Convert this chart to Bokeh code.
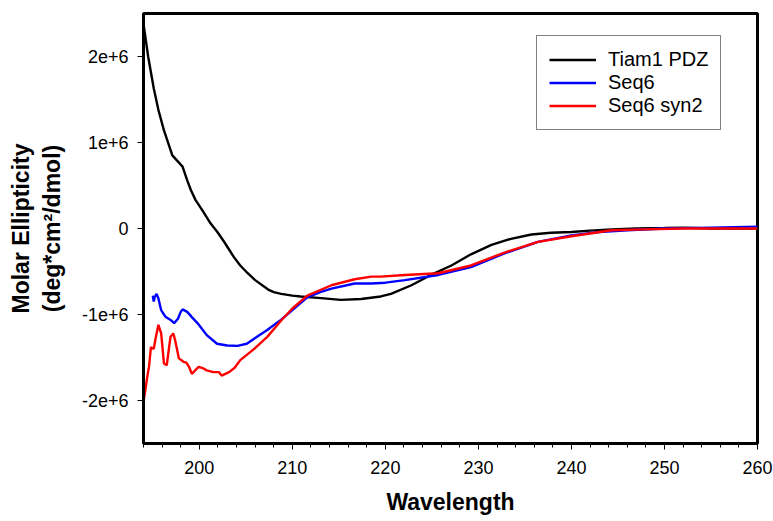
from bokeh.plotting import figure
from bokeh.models import Range1d, FixedTicker, ColumnDataSource
from bokeh.embed import file_html
from bokeh.resources import INLINE

# ---- data ----
tiam_x = [194.0, 194.5, 195.1, 195.6, 196.2, 197.1, 198.2, 198.7, 199.1, 199.6, 200.4, 201.2,
          202.0, 202.7, 203.7, 204.4, 205.2, 206.0, 207.4, 208.0, 208.8, 210.0, 210.9, 213.1,
          215.2, 217.4, 219.5, 220.6, 222.8, 224.9, 227.1, 229.2, 231.4, 233.5, 235.7, 237.8,
          240.0, 242.0, 244.3, 247.0, 250.0, 252.0, 255.0, 258.0, 260.0]
tiam_y = [2.38e6, 2.0e6, 1.63e6, 1.38e6, 1.14e6, 0.85e6, 0.72e6, 0.56e6, 0.445e6, 0.33e6, 0.20e6, 0.06e6,
          -0.05e6, -0.16e6, -0.33e6, -0.43e6, -0.52e6, -0.60e6, -0.71e6, -0.74e6, -0.76e6, -0.78e6, -0.79e6, -0.81e6,
          -0.83e6, -0.82e6, -0.79e6, -0.76e6, -0.66e6, -0.54e6, -0.43e6, -0.30e6, -0.19e6, -0.12e6, -0.07e6, -0.05e6,
          -0.04e6, -0.025e6, -0.01e6, 0.0, 0.005e6, 0.01e6, 0.0, 0.0, 0.0]

seq6_x = [195.0, 195.1, 195.2, 195.4, 195.6, 195.9, 196.2, 196.4, 196.7, 197.0, 197.3, 197.7,
          198.0, 198.2, 198.7, 199.2, 199.8, 200.8, 201.9, 203.0, 204.1, 205.1, 206.2, 207.3,
          208.8, 210.0, 211.6, 213.0, 214.2, 216.7, 218.5, 220.0, 222.1, 225.7, 229.2, 232.8,
          236.4, 240.0, 243.0, 246.0, 250.0, 255.0, 260.0]
seq6_y = [-0.78e6, -0.85e6, -0.80e6, -0.76e6, -0.81e6, -0.95e6, -1.00e6, -1.03e6, -1.05e6, -1.07e6, -1.10e6, -1.05e6,
          -0.97e6, -0.94e6, -0.97e6, -1.03e6, -1.10e6, -1.24e6, -1.34e6, -1.36e6, -1.365e6, -1.34e6, -1.26e6, -1.18e6,
          -1.06e6, -0.95e6, -0.80e6, -0.74e6, -0.70e6, -0.64e6, -0.64e6, -0.63e6, -0.60e6, -0.54e6, -0.45e6, -0.29e6,
          -0.155e6, -0.08e6, -0.04e6, -0.02e6, 0.0, 0.01e6, 0.02e6]

syn2_x = [194.0, 194.4, 194.6, 194.8, 195.1, 195.3, 195.6, 195.9, 196.2, 196.5, 196.9, 197.2,
          197.4, 197.8, 198.3, 198.6, 198.9, 199.2, 199.9, 200.3, 200.8, 201.5, 202.1, 202.4,
          203.2, 203.8, 204.4, 205.9, 207.3, 208.8, 210.0, 211.6, 214.2, 216.7, 218.5, 219.5,
          222.1, 225.7, 229.2, 232.8, 236.4, 240.0, 244.3, 248.0, 252.0, 256.0, 260.0]
syn2_y = [-2.02e6, -1.73e6, -1.60e6, -1.38e6, -1.40e6, -1.28e6, -1.12e6, -1.22e6, -1.57e6, -1.59e6, -1.26e6, -1.22e6,
          -1.30e6, -1.51e6, -1.55e6, -1.56e6, -1.61e6, -1.69e6, -1.61e6, -1.62e6, -1.65e6, -1.67e6, -1.67e6, -1.71e6,
          -1.67e6, -1.62e6, -1.53e6, -1.40e6, -1.26e6, -1.07e6, -0.93e6, -0.78e6, -0.66e6, -0.59e6, -0.56e6, -0.56e6,
          -0.54e6, -0.52e6, -0.43e6, -0.28e6, -0.155e6, -0.09e6, -0.02e6, -0.01e6, 0.0, 0.0, 0.0]

series_names = ["Tiam1 PDZ", "Seq6", "Seq6 syn2"]
series_colors = ["black", "#0000ff", "#ff0000"]

x_ticks = [200, 210, 220, 230, 240, 250, 260]
x_minor = list(range(194, 261, 2))
y_ticks = [-2e6, -1e6, 0, 1e6, 2e6]
y_tick_labels = ["-2e+6", "-1e+6", "0", "1e+6", "2e+6"]

FONT = "Liberation Sans"

p = figure(width=773, height=521, x_range=Range1d(194, 260), y_range=Range1d(-2.5e6, 2.5e6),
           output_backend="svg", toolbar_location=None,
           min_border_left=143, min_border_right=16, min_border_top=13, min_border_bottom=78)

p.xgrid.visible = False
p.ygrid.visible = False
p.outline_line_color = "black"
p.outline_line_width = 3
p.outline_line_alpha = 1.0

for xs, ys, name, col in zip([tiam_x, seq6_x, syn2_x], [tiam_y, seq6_y, syn2_y], series_names, series_colors):
    src = ColumnDataSource(data=dict(x=xs, y=ys))
    p.line("x", "y", source=src, line_color=col, line_width=2.4, legend_label=name)

# x axis
xa = p.xaxis[0]
xa.ticker = FixedTicker(ticks=x_ticks, minor_ticks=x_minor)
xa.axis_label = "Wavelength"
xa.axis_label_text_font = FONT
xa.axis_label_text_font_style = "bold"
xa.axis_label_text_font_size = "23px"
xa.axis_label_text_color = "black"
xa.axis_label_standoff = 12
xa.major_label_text_font = FONT
xa.major_label_text_font_size = "18px"
xa.major_label_text_color = "black"
xa.major_label_standoff = 11
xa.axis_line_width = 3
xa.axis_line_color = "black"
xa.major_tick_line_color = "black"
xa.minor_tick_line_color = "black"
xa.major_tick_out = 6
xa.major_tick_in = 0
xa.minor_tick_out = 4
xa.minor_tick_in = 0

# y axis
ya = p.yaxis[0]
ya.ticker = FixedTicker(ticks=y_ticks, minor_ticks=[])
ya.major_label_overrides = {t: l for t, l in zip(y_ticks, y_tick_labels)}
ya.axis_label = "Molar Ellipticity\n(deg*cm\u00b2/dmol)"
ya.axis_label_text_font = FONT
ya.axis_label_text_font_style = "bold"
ya.axis_label_text_font_size = "23px"
ya.axis_label_text_color = "black"
ya.axis_label_standoff = 14
ya.major_label_text_font = FONT
ya.major_label_text_font_size = "18px"
ya.major_label_text_color = "black"
ya.major_label_standoff = 9
ya.axis_line_width = 3
ya.axis_line_color = "black"
ya.major_tick_line_color = "black"
ya.major_tick_out = 6
ya.major_tick_in = 0
ya.minor_tick_out = 0
ya.minor_tick_in = 0

# legend
lg = p.legend[0]
lg.location = (393, 313)
lg.label_text_font = FONT
lg.label_text_font_size = "20px"
lg.label_text_color = "black"
lg.label_height = 23
lg.glyph_height = 23
lg.glyph_width = 47
lg.label_standoff = 12
lg.padding = 12
lg.spacing = 0
lg.margin = 0
lg.border_line_color = "black"
lg.border_line_width = 1
lg.background_fill_alpha = 1.0

open("out.html", "w").write(file_html(p, INLINE))
